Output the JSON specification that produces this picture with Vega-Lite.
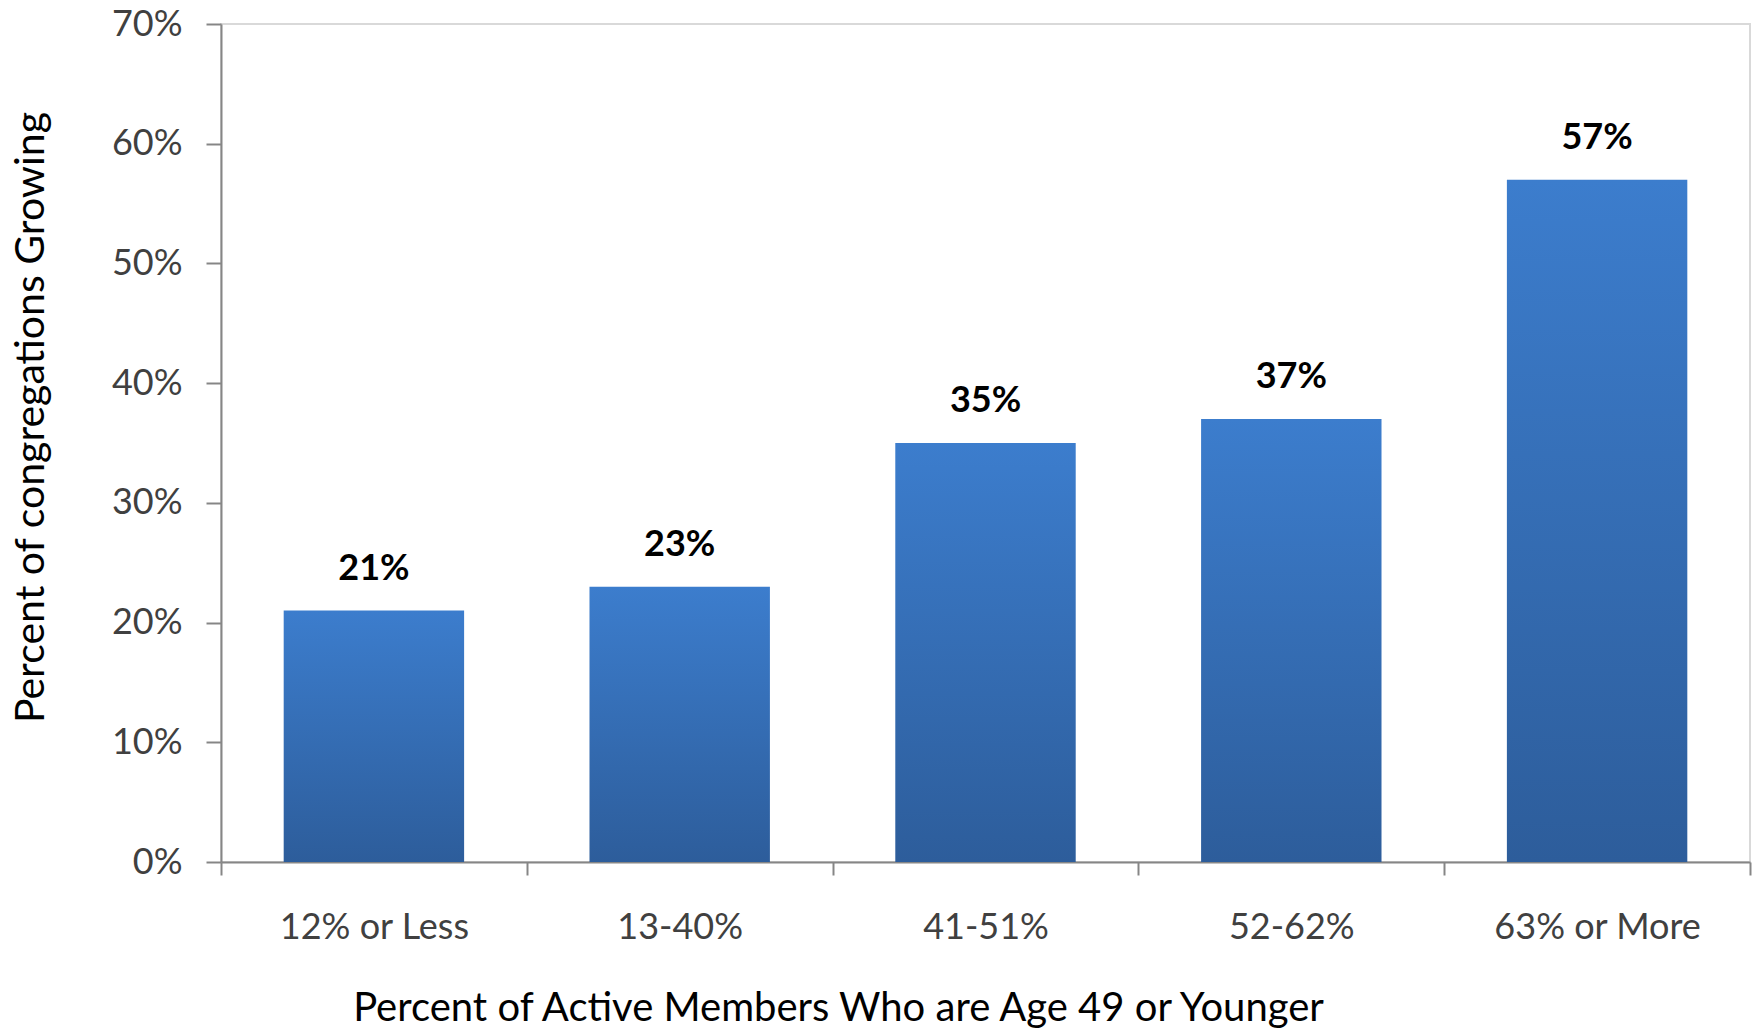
{
  "$schema": "https://vega.github.io/schema/vega-lite/v6.json",
  "autosize": {"type": "none"},
  "width": 1529,
  "height": 838,
  "padding": {"left": 221, "top": 24, "right": 6, "bottom": 167},
  "background": "white",
  "config": {
    "font": "Lato, sans-serif",
    "view": {"stroke": "#d9d9d9", "strokeWidth": 2}
  },
  "data": {
    "values": [
      {"group": "12% or Less", "pct": 0.21},
      {"group": "13-40%", "pct": 0.23},
      {"group": "41-51%", "pct": 0.35},
      {"group": "52-62%", "pct": 0.37},
      {"group": "63% or More", "pct": 0.57}
    ]
  },
  "encoding": {
    "x": {
      "field": "group",
      "type": "nominal",
      "sort": null,
      "scale": {"paddingInner": 0, "paddingOuter": 0},
      "axis": {
        "title": "Percent of Active Members Who are Age 49 or Younger",
        "titleFontSize": 40,
        "titleFontWeight": "normal",
        "titleColor": "#000000",
        "titleX": 617,
        "titleY": 146,
        "titleAlign": "center",
        "titleBaseline": "middle",
        "labelAngle": 0,
        "labelFontSize": 36,
        "labelColor": "#404040",
        "labelBaseline": "middle",
        "labelPadding": 52,
        "labelLimit": 0,
        "tickBand": "extent",
        "tickSize": 13,
        "tickWidth": 2,
        "tickColor": "#868686",
        "domainColor": "#868686",
        "domainWidth": 2
      }
    },
    "y": {
      "field": "pct",
      "type": "quantitative",
      "scale": {"domain": [0, 0.7], "nice": false},
      "axis": {
        "values": [0, 0.1, 0.2, 0.3, 0.4, 0.5, 0.6, 0.7],
        "format": ".0%",
        "title": "Percent of congregations  Growing",
        "titleFontSize": 41,
        "titleFontWeight": "normal",
        "titleColor": "#000000",
        "titleX": -190,
        "titleY": 393,
        "titleAngle": -90,
        "titleAlign": "center",
        "titleBaseline": "middle",
        "labelFontSize": 36,
        "labelColor": "#404040",
        "labelPadding": 24,
        "labelBaseline": "middle",
        "labelFlush": false,
        "tickSize": 15,
        "tickWidth": 2,
        "tickColor": "#868686",
        "domainColor": "#868686",
        "domainWidth": 2,
        "grid": false
      }
    }
  },
  "layer": [
    {
      "mark": {
        "type": "bar",
        "width": {"band": 0.59},
        "color": {
          "gradient": "linear",
          "x1": 0, "y1": 0, "x2": 0, "y2": 1,
          "stops": [
            {"offset": 0, "color": "#3C7DCD"},
            {"offset": 1, "color": "#2D5D9B"}
          ]
        }
      }
    },
    {
      "mark": {
        "type": "text",
        "dy": -42,
        "fontSize": 36,
        "fontWeight": "bold",
        "color": "#000000"
      },
      "encoding": {
        "text": {"field": "pct", "type": "quantitative", "format": ".0%"}
      }
    }
  ]
}
